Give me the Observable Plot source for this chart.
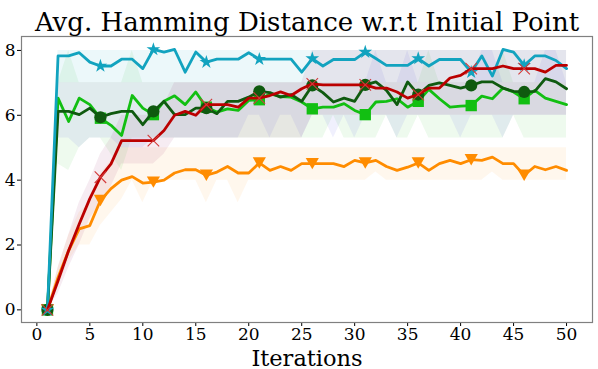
<!DOCTYPE html>
<html><head><meta charset="utf-8">
<script src="https://cdn.jsdelivr.net/npm/d3@7"></script>
<script src="https://cdn.jsdelivr.net/npm/@observablehq/plot@0.6"></script>
<style>body{margin:0;background:#fff;} svg{display:block;}</style>
</head><body><div id="chart"></div>
<script>
const titleText = "Avg. Hamming Distance w.r.t Initial Point";
const xLabel = "Iterations";
const xTicks = [0, 5, 10, 15, 20, 25, 30, 35, 40, 45, 50];
const yTicks = [0, 2, 4, 6, 8];
const iterations = [1,2,3,4,5,6,7,8,9,10,11,12,13,14,15,16,17,18,19,20,21,22,23,24,25,26,27,28,29,30,31,32,33,34,35,36,37,38,39,40,41,42,43,44,45,46,47,48,49,50];

const cyanMean = [0,7.83,7.83,7.93,7.64,7.52,7.52,7.73,7.73,7.44,8.03,7.95,8.03,7.33,7.95,7.64,7.73,7.73,7.73,7.93,7.73,7.73,7.73,7.73,7.33,7.75,7.52,7.72,7.72,7.72,7.95,7.75,7.54,7.54,7.54,7.75,7.52,7.72,7.72,7.72,7.33,7.83,7.21,8.03,7.95,7.54,7.83,7.83,7.69,7.44];
const cyanLo =   [0,7.0,7.0,7.0,7.0,7.0,7.0,7.0,7.0,7.0,7.0,7.0,7.0,7.0,7.0,7.0,7.0,7.0,7.0,7.0,7.0,7.0,7.0,7.0,7.0,7.0,7.0,7.0,7.0,7.0,7.0,7.0,7.0,7.0,7.0,7.0,7.0,7.0,7.0,7.0,7.0,7.0,7.0,7.0,7.0,7.0,7.0,7.0,7.0,7.0];
const cyanHi =   [0,8.0,8.0,8.0,8.0,8.0,8.0,8.0,8.0,8.0,8.0,8.0,8.0,8.0,8.0,8.0,8.0,8.0,8.0,8.0,8.0,8.0,8.0,8.0,8.0,8.0,8.0,8.0,8.0,8.0,8.0,8.0,8.0,8.0,8.0,8.0,8.0,8.0,8.0,8.0,8.0,8.0,8.0,8.0,8.0,8.0,8.0,8.0,8.0,8.0];

const redMean = [0,0.9,1.83,2.65,3.43,4.09,4.5,5.22,5.22,5.22,5.22,5.53,6.0,6.12,6.0,6.33,6.33,6.33,6.25,6.53,6.53,6.61,6.72,6.61,6.82,6.97,6.94,6.94,6.94,6.94,6.94,6.84,6.84,6.72,6.53,6.64,6.84,6.84,7.15,7.23,7.44,7.44,7.44,7.52,7.44,7.44,7.44,7.33,7.54,7.54];
const redLo =   [0,0.5,1.3,2.0,2.8,3.3,3.8,4.5,4.5,4.5,4.5,4.8,5.3,5.3,5.3,5.3,5.3,5.3,5.3,5.3,5.3,5.3,5.3,5.3,5.3,6.0,6.0,6.0,6.0,6.0,6.0,6.0,6.0,6.0,6.0,6.0,6.0,6.0,6.0,6.0,6.0,6.0,6.0,6.0,6.0,6.0,6.0,6.0,6.0,6.0];
const redHi =   [0,1.3,2.3,3.3,4.0,4.8,5.3,6.0,6.0,6.0,6.0,6.3,7.0,7.0,7.0,7.0,7.0,7.0,7.0,7.0,7.0,7.0,7.0,7.0,7.0,8.0,8.0,8.0,8.0,8.0,8.0,8.0,8.0,8.0,8.0,8.0,8.0,8.0,8.0,8.0,8.0,8.0,8.0,8.0,8.0,8.0,8.0,8.0,8.0,8.0];

const dkGreenMean = [0,6.12,6.12,6.02,6.22,5.94,6.05,6.12,6.12,5.71,6.12,6.43,6.02,6.02,6.22,6.22,6.05,6.43,6.43,6.56,6.74,6.7,6.56,6.64,6.43,6.92,6.7,6.41,6.53,6.43,6.94,7.03,6.77,6.33,7.03,6.64,6.92,7.0,6.92,6.84,6.92,7.03,7.03,6.84,6.74,6.72,6.74,7.13,7.03,6.82];
const dkGreenLo =   [0,5.3,5.3,5.0,5.3,5.3,5.3,5.0,5.0,5.0,5.3,5.3,5.3,5.3,5.3,5.3,5.3,5.3,5.3,6.0,6.0,5.3,6.0,6.0,5.3,6.0,6.0,5.3,6.0,5.3,6.0,6.0,6.0,5.3,6.0,6.0,6.0,6.0,6.0,5.3,6.0,6.0,6.0,5.3,6.0,6.0,6.0,6.0,6.0,6.0];
const dkGreenHi =   [0,7.0,7.0,7.0,7.0,7.0,7.0,7.0,7.0,7.0,7.0,7.0,7.0,7.0,7.0,7.0,7.0,7.0,7.0,7.0,7.0,7.0,7.0,7.0,7.0,7.0,7.0,7.0,7.0,7.0,7.0,8.0,7.0,7.0,8.0,7.0,7.0,7.0,7.0,7.0,7.0,8.0,8.0,7.0,7.0,7.0,7.0,8.0,8.0,7.0];

const greenMean = [0,6.53,5.81,6.53,6.33,5.91,5.69,5.38,6.61,6.22,6.02,6.43,6.6,6.33,6.72,6.25,6.1,6.2,6.15,6.46,6.48,6.66,6.58,6.56,6.41,6.2,6.25,6.25,6.36,6.15,6.02,6.41,6.43,6.51,6.25,6.43,6.8,6.51,6.25,6.28,6.3,6.59,6.51,6.84,6.72,6.51,6.77,6.53,6.43,6.33];
const greenLo =   [0,4.5,4.3,5.0,5.3,5.3,4.8,4.3,5.3,5.3,5.3,5.3,5.3,5.3,5.3,5.3,5.3,5.3,5.3,5.3,5.3,5.3,5.3,5.3,5.3,5.3,5.3,6.0,5.3,5.3,5.3,5.3,6.0,5.3,5.3,6.0,5.3,5.3,5.3,5.3,5.3,5.3,5.3,5.3,6.0,5.3,5.3,5.3,5.3,5.3];
const greenHi =   [0,7.0,8.0,7.0,7.0,7.0,7.0,7.0,8.0,7.0,7.0,7.0,7.0,7.0,7.0,7.0,7.0,7.0,7.0,7.0,7.0,7.0,7.0,7.0,7.0,7.0,7.0,7.0,7.0,7.0,7.0,7.0,7.0,7.0,7.0,7.0,8.0,7.0,7.0,7.0,7.0,7.0,7.0,8.0,7.0,7.0,7.0,7.0,7.0,7.0];

const orangeMean = [0,1.0,1.83,2.5,2.6,3.37,3.74,4.0,4.11,3.91,3.94,4.0,4.22,4.32,4.32,4.15,4.25,4.42,4.22,4.22,4.53,4.3,4.42,4.3,4.51,4.51,4.51,4.51,4.42,4.61,4.53,4.61,4.42,4.3,4.4,4.53,4.3,4.51,4.61,4.51,4.63,4.61,4.71,4.51,4.51,4.15,4.42,4.32,4.42,4.3];
const orangeLo =   [0,0.7,1.5,2.0,2.0,2.6,3.0,3.4,4.0,3.3,4.0,4.0,4.0,4.0,4.0,3.3,4.0,4.0,3.3,4.0,4.0,4.0,4.0,4.0,4.0,4.0,4.0,4.0,4.0,4.0,4.0,4.25,4.0,4.0,4.0,4.0,4.0,4.0,4.0,4.0,4.0,4.0,4.25,4.0,4.0,4.0,4.0,4.0,4.0,4.0];
const orangeHi =   [0,1.3,2.3,3.0,3.3,4.2,4.6,5.0,5.0,5.0,5.0,5.0,5.0,5.0,5.0,5.0,5.0,5.0,5.0,5.0,5.0,5.0,5.0,5.0,5.0,5.0,5.0,5.0,5.0,5.0,5.0,5.0,5.0,5.0,5.0,5.0,5.0,5.0,5.0,5.0,5.0,5.0,5.0,5.0,5.0,5.0,5.0,5.0,5.0,5.0];

const triangleDown = {
  draw(context, size) {
    const s = Math.sqrt(4 * size / Math.sqrt(3));
    const h = s * Math.sqrt(3) / 2;
    context.moveTo(-s / 2, -h / 2);
    context.lineTo(s / 2, -h / 2);
    context.lineTo(0, h / 2);
    context.closePath();
  }
};

// draw order: orange, green, dark green, cyan, red
const series = [
  {key: "orange", mean: orangeMean, lo: orangeLo, hi: orangeHi, color: "#ff8c00", band: "#ff8c00", bandOp: 0.07, symbol: triangleDown, r: 4.9, filled: true},
  {key: "green", mean: greenMean, lo: greenLo, hi: greenHi, color: "#12bf12", band: "#12bf12", bandOp: 0.07, symbol: "square", r: 6.4, filled: true},
  {key: "dkgreen", mean: dkGreenMean, lo: dkGreenLo, hi: dkGreenHi, color: "#0f5a0f", band: "#3a3ae0", bandOp: 0.08, symbol: "circle", r: 6.1, filled: true},
  {key: "cyan", mean: cyanMean, lo: cyanLo, hi: cyanHi, color: "#12a3bf", band: "#12a3bf", bandOp: 0.08, symbol: "star", r: 4.3, filled: true},
  {key: "red", mean: redMean, lo: redLo, hi: redHi, color: "#bb0000", band: "#a02a70", bandOp: 0.09, symbol: "times", r: 5.3, filled: false}
];

function rowsOf(s) {
  return iterations.map((it, k) => ({it, v: s.mean[k], lo: s.lo[k], hi: s.hi[k]}));
}

const font = "DejaVu Serif";
const marks = [];
for (const s of series) {
  marks.push(Plot.areaY(rowsOf(s), {x: "it", y1: "lo", y2: "hi", fill: s.band, fillOpacity: s.bandOp}));
}
for (const s of series) {
  const rows = rowsOf(s);
  marks.push(Plot.lineY(rows, {x: "it", y: "v", stroke: s.color, strokeWidth: 2.8, strokeLinejoin: "round"}));
  const mk = rows.filter(d => (d.it - 1) % 5 === 0);
  if (s.filled) {
    marks.push(Plot.dot(mk, {x: "it", y: "v", symbol: () => s.symbol, r: s.r, fill: s.color, stroke: "none"}));
  } else {
    marks.push(Plot.dot(mk, {x: "it", y: "v", symbol: () => s.symbol, r: s.r, stroke: "#d23a3a", strokeWidth: 1.1, fill: "none"}));
  }
}
marks.push(Plot.frame({stroke: "#808080", strokeWidth: 1.2}));
marks.push(Plot.text([titleText], {frameAnchor: "top", dy: -6, lineAnchor: "bottom", fontSize: 26, fontFamily: font, fill: "black"}));
marks.push(Plot.text([xLabel], {frameAnchor: "bottom", dy: 43, lineAnchor: "bottom", fontSize: 22.5, fontFamily: font, fill: "black"}));

const chart = Plot.plot({
  width: 598,
  height: 369,
  marginTop: 36,
  marginBottom: 47,
  marginLeft: 21,
  marginRight: 6,
  style: {fontFamily: font, fontSize: "17px", color: "black", background: "white"},
  x: {domain: [-1.45, 52.45], ticks: xTicks, tickSize: 4, tickPadding: 1, label: null, tickFormat: d => String(d)},
  y: {domain: [-0.39, 8.43], ticks: yTicks, tickSize: 4, tickPadding: 2, label: null, tickFormat: d => String(d)},
  marks
});
document.getElementById("chart").appendChild(chart);
</script>
</body></html>
